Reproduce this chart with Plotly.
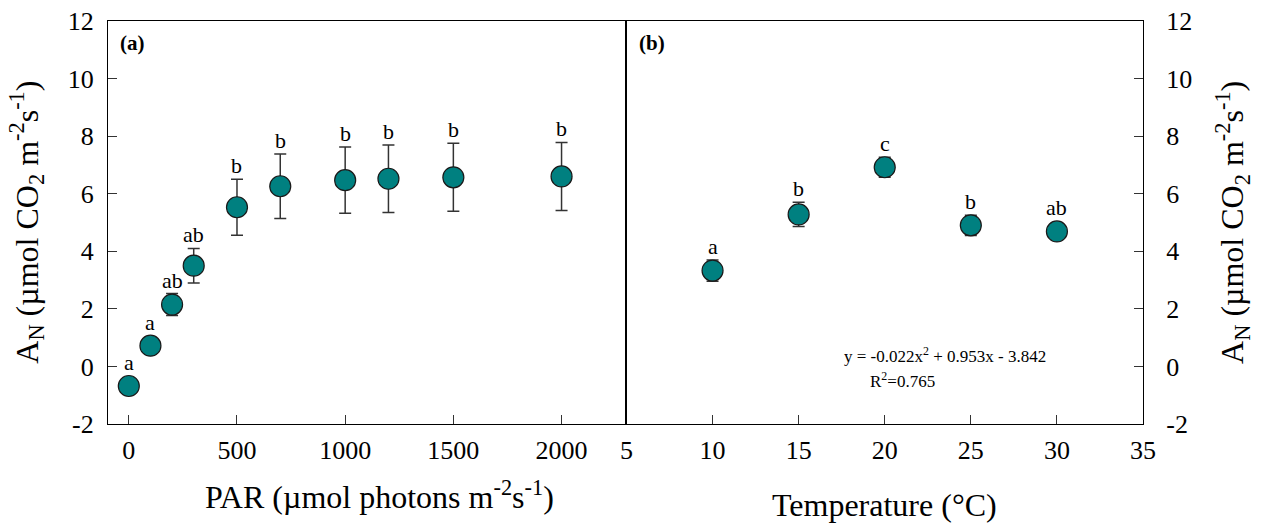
import plotly.graph_objects as go

# ---- data ----
par = [0, 100, 200, 300, 500, 700, 1000, 1200, 1500, 2000]
an_par = [-0.68, 0.72, 2.15, 3.50, 5.53, 6.26, 6.47, 6.52, 6.57, 6.60]
se_par = [0.20, 0.20, 0.38, 0.60, 0.97, 1.12, 1.15, 1.17, 1.18, 1.18]
letters_par = ["a", "a", "ab", "ab", "b", "b", "b", "b", "b", "b"]

temp = [10, 15, 20, 25, 30]
an_temp = [3.33, 5.28, 6.92, 4.90, 4.69]
se_temp = [0.37, 0.42, 0.35, 0.35, 0.15]
letters_temp = ["a", "b", "c", "b", "ab"]

par_ticks = [0, 500, 1000, 1500, 2000]
temp_ticks = [5, 10, 15, 20, 25, 30, 35]
y_ticks = [-2, 0, 2, 4, 6, 8, 10, 12]
y_ticktext = ["-2", "0", "2", "4", "6", "8", "10", "12"]

FONT = "Liberation Serif"
TEAL = "#008080"
MARKER_R = 0.35  # marker radius in y units (for letter placement)

fig = go.Figure()

err_style = dict(type="data", color="#333333", thickness=1.5, width=6)
marker_style = dict(size=21, color=TEAL, line=dict(color="#1a1a1a", width=1.2))

fig.add_trace(go.Scatter(
    x=par, y=an_par, mode="markers",
    error_y=dict(array=se_par, **err_style),
    marker=marker_style, xaxis="x", yaxis="y", showlegend=False,
))
fig.add_trace(go.Scatter(
    x=temp, y=an_temp, mode="markers",
    error_y=dict(array=se_temp, **err_style),
    marker=marker_style, xaxis="x2", yaxis="y2", showlegend=False,
))

annotations = []
for xv, yv, e, t in zip(par, an_par, se_par, letters_par):
    annotations.append(dict(x=xv, y=yv + max(e, MARKER_R), xref="x", yref="y",
                            text=t, showarrow=False, xanchor="center", yanchor="bottom",
                            yshift=-1, font=dict(family=FONT, size=22, color="black")))
for xv, yv, e, t in zip(temp, an_temp, se_temp, letters_temp):
    annotations.append(dict(x=xv, y=yv + max(e, MARKER_R), xref="x2", yref="y2",
                            text=t, showarrow=False, xanchor="center", yanchor="bottom",
                            yshift=-1, font=dict(family=FONT, size=22, color="black")))


def paper_text(x, y, text, size, angle=0):
    return dict(x=x, y=y, xref="paper", yref="paper", text=text, textangle=angle,
                showarrow=False, xanchor="center", yanchor="middle",
                font=dict(family=FONT, size=size, color="black"))


# panel labels
annotations.append(paper_text(0.105, 0.919, "<b>(a)</b>", 21))
annotations.append(paper_text(0.517, 0.919, "<b>(b)</b>", 21))
# regression equation
annotations.append(paper_text(0.749, 0.329, "y = -0.022x<sup>2</sup> + 0.953x - 3.842", 17))
annotations.append(paper_text(0.715, 0.282, "R<sup>2</sup>=0.765", 17))
# axis titles
ytitle = "A<sub>N</sub> (µmol CO<sub>2</sub> m<sup>-2</sup>s<sup>-1</sup>)"
annotations.append(paper_text(0.021, 0.58, ytitle, 32, -90))
annotations.append(paper_text(0.976, 0.58, ytitle, 32, -90))
annotations.append(paper_text(0.301, 0.064, "PAR (µmol photons m<sup>-2</sup>s<sup>-1</sup>)", 32))
annotations.append(paper_text(0.701, 0.045, "Temperature (°C)", 32))

axis_common = dict(showgrid=False, zeroline=False, showline=True, linecolor="black",
                   linewidth=1.3, mirror=True, ticks="inside", ticklen=9,
                   tickcolor="#333333", tickwidth=1.3, automargin=False,
                   tickfont=dict(family=FONT, size=26, color="black"))

fig.update_layout(
    width=1262, height=529,
    margin=dict(l=0, r=0, t=0, b=0),
    paper_bgcolor="white", plot_bgcolor="white",
    font=dict(family=FONT, color="black"),
    xaxis=dict(domain=[0.0856, 0.4964], range=[-96, 2300], anchor="y",
               tickvals=par_ticks, ticklabelstandoff=3, **axis_common),
    yaxis=dict(domain=[0.1985, 0.9603], range=[-2, 12], anchor="x",
               tickvals=y_ticks, ticktext=y_ticktext, ticklabelstandoff=8, **axis_common),
    xaxis2=dict(domain=[0.4964, 0.9057], range=[5, 35], anchor="y2",
                tickvals=temp_ticks, ticklabelstandoff=3, **axis_common),
    yaxis2=dict(domain=[0.1985, 0.9603], range=[-2, 12], anchor="x2", side="right",
                tickvals=y_ticks, ticktext=y_ticktext, ticklabelstandoff=17, **axis_common),
    annotations=annotations,
)

fig.write_html("out.html")
